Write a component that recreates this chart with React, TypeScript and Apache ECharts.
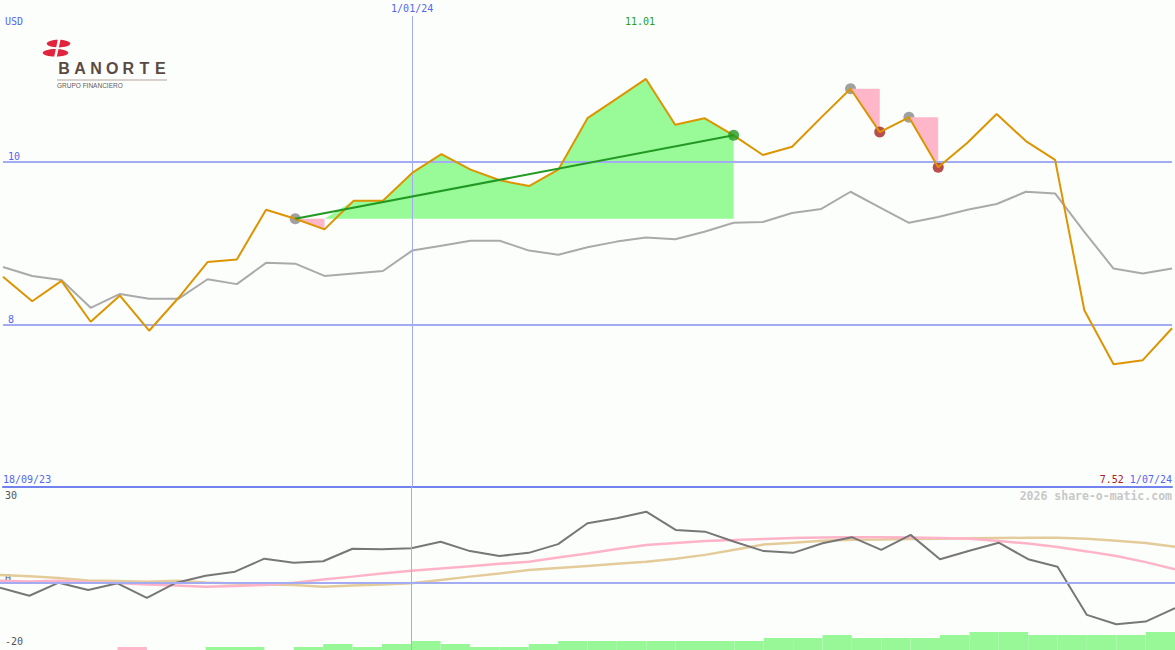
import React, { useEffect, useRef } from "react";
import * as echarts from "echarts";

// ---------- data ----------
const dates = [
  "18/09/23", "25/09/23", "2/10/23", "9/10/23", "16/10/23", "23/10/23", "30/10/23", "6/11/23",
  "13/11/23", "20/11/23", "27/11/23", "4/12/23", "11/12/23", "18/12/23", "1/01/24", "8/01/24",
  "15/01/24", "22/01/24", "29/01/24", "5/02/24", "12/02/24", "19/02/24", "26/02/24", "4/03/24",
  "11/03/24", "18/03/24", "25/03/24", "1/04/24", "8/04/24", "15/04/24", "22/04/24", "29/04/24",
  "6/05/24", "13/05/24", "20/05/24", "27/05/24", "3/06/24", "10/06/24", "17/06/24", "24/06/24",
  "1/07/24",
];

const priceValues = [
  8.59, 8.29, 8.54, 8.04, 8.36, 7.93, 8.33, 8.77, 8.80, 9.41, 9.30, 9.17, 9.52, 9.52, 9.86, 10.09,
  9.90, 9.77, 9.70, 9.90, 10.53, 10.77, 11.01, 10.45, 10.53, 10.32, 10.08, 10.18, 10.54, 10.89,
  10.36, 10.54, 9.93, 10.23, 10.58, 10.25, 10.02, 8.18, 7.52, 7.57, 7.96,
];

const averageValues = [
  8.71, 8.60, 8.55, 8.21, 8.38, 8.32, 8.32, 8.56, 8.50, 8.76, 8.75, 8.60, 8.63, 8.66, 8.91, 8.97,
  9.03, 9.03, 8.91, 8.86, 8.95, 9.02, 9.07, 9.05, 9.14, 9.25, 9.26, 9.37, 9.42, 9.63, 9.44, 9.25,
  9.32, 9.41, 9.48, 9.63, 9.61, 9.14, 8.69, 8.63, 8.69,
];

const momentumValues = [
  -1.6, -4.4, 0.1, -2.4, -0.1, -5.1, 0.1, 2.5, 3.9, 8.4, 7.0, 7.5, 11.8, 11.6, 12.0, 14.2, 11.0,
  9.3, 10.4, 13.4, 20.6, 22.3, 24.6, 18.3, 17.7, 14.2, 11.0, 10.4, 13.7, 15.8, 11.4, 16.6, 8.2,
  11.1, 13.9, 8.2, 5.6, -11.0, -14.2, -13.3, -8.7,
];

const pinkAverageValues = [
  0.8, 0.5, 0.8, 0.3, 0.0, -0.5, -0.9, -1.3, -1.0, -0.7, 0.1, 1.2, 2.2, 3.3, 4.2, 5.0, 5.8, 6.6,
  7.3, 8.8, 10.2, 11.7, 13.1, 13.8, 14.5, 14.8, 15.2, 15.5, 15.7, 15.8, 15.8, 15.7, 15.5, 15.3,
  14.5, 13.6, 12.4, 10.9, 9.3, 7.2, 4.7,
];

const tanAverageValues = [
  2.8, 2.3, 1.7, 0.9, 0.7, 0.4, 0.8, 0.2, -0.2, -0.5, -0.7, -1.3, -0.9, -0.5, -0.1, 1.0, 2.2, 3.3,
  4.5, 5.2, 5.9, 6.6, 7.3, 8.4, 9.7, 11.5, 13.3, 13.9, 14.6, 14.9, 15.0, 15.2, 15.3, 15.4, 15.5,
  15.6, 15.6, 15.3, 14.6, 13.8, 12.5,
];

// step bars (one per interval between two dates); negative = pink
const barLevels = [
  0, 0, 0, 0, -1, 0, 0, 1, 1, 0, 1, 2, 1, 2, 3, 2, 1, 1, 2, 3, 3, 3, 3, 3, 3, 3, 4, 4, 5, 4, 4, 4,
  5, 6, 6, 5, 5, 5, 5, 6,
];

const trendRange = [10, 25];
const greenRange = [11, 25];
const pinkSegments = [
  [10, 11],
  [29, 30],
  [31, 32],
];
const peakMarkers = [10, 29, 31];
const lowMarkers = [30, 32];
const trendEndMarker = 25;
const markDateIndex = 14;
const mainTickLabels = [8, 10];
const lowerTickLabels = [30, 0, -20];

// ---------- layout / style ----------
const MONO = '"DejaVu Sans Mono", monospace';
const BG = "#fcfefc";
const BLUE_T = "#5566ee";
const LINE_BLUE = "#a3abf2";
const SEP = "#7282ee";
const MAIN_MIN = 6.0183;
const MAIN_MAX = 11.9755;
const LOW_MIN = -23.103;
const LOW_MAX = 33.103;
const VLINE_TOP = 11.78;
const MAX_LABEL_Y = 11.7186;

export default function App() {
  const ref = useRef<HTMLDivElement>(null);

  useEffect(() => {
    const el = ref.current;
    if (!el) return;
    const chart = echarts.init(el, null, { renderer: "svg" });

    const n = dates.length;
    const maxVal = Math.max(...priceValues);
    const maxIdx = priceValues.indexOf(maxVal);
    const minVal = Math.min(...priceValues);
    const trendBase = priceValues[trendRange[0]];

    const greenBase = dates.map((_, i) =>
      i >= greenRange[0] && i <= greenRange[1] ? trendBase : null
    );
    const greenFill = dates.map((_, i) =>
      i >= greenRange[0] && i <= greenRange[1] ? Math.max(priceValues[i], trendBase) - trendBase : null
    );

    const pinkSeries: any[] = [];
    pinkSegments.forEach(([a, b], k) => {
      const level = priceValues[a];
      const baseData = dates.map((_, i) => (i >= a && i <= b ? Math.min(priceValues[i], level) : null));
      const fillData = dates.map((_, i) =>
        i >= a && i <= b ? level - Math.min(priceValues[i], level) : null
      );
      pinkSeries.push({
        type: "line",
        xAxisIndex: 0,
        yAxisIndex: 0,
        stack: "pink" + k,
        data: baseData,
        symbol: "none",
        lineStyle: { opacity: 0, width: 0 },
        z: 3,
        silent: true,
      });
      pinkSeries.push({
        type: "line",
        xAxisIndex: 0,
        yAxisIndex: 0,
        stack: "pink" + k,
        data: fillData,
        symbol: "none",
        lineStyle: { opacity: 0, width: 0 },
        areaStyle: { color: "#ffb6c8", opacity: 1 },
        z: 3,
        silent: true,
      });
    });

    const trendData = dates.map((_, i) =>
      i === trendRange[0] || i === trendRange[1] ? priceValues[i] : null
    );

    const near = (v: number, t: number) => Math.abs(v - t) < 1e-6;

    const option: any = {
      animation: false,
      backgroundColor: BG,
      grid: [
        { left: 0, right: 0, top: 0, height: 487 },
        { left: 0, right: 0, top: 487, height: 163 },
      ],
      xAxis: [
        {
          type: "category",
          gridIndex: 0,
          data: dates,
          boundaryGap: false,
          position: "bottom",
          axisLine: { show: true, lineStyle: { color: SEP, width: 2 } },
          axisTick: { show: false },
          splitLine: { show: false },
          axisLabel: {
            inside: true,
            margin: 3,
            interval: (i: number) => i === 0 || i === n - 1,
            alignMinLabel: "left",
            alignMaxLabel: "right",
            color: BLUE_T,
            fontFamily: MONO,
            fontSize: 10,
            formatter: (val: string, i: number) =>
              i === n - 1 ? `{r|${minVal.toFixed(2)}} ${val}` : val,
            rich: { r: { color: "#a82020", fontFamily: MONO, fontSize: 10 } },
          },
        },
        {
          type: "category",
          gridIndex: 0,
          data: dates,
          boundaryGap: false,
          position: "top",
          axisLine: { show: false },
          axisTick: { show: false },
          splitLine: { show: false },
          axisLabel: {
            inside: true,
            margin: 3,
            interval: (i: number) => i === markDateIndex,
            color: BLUE_T,
            fontFamily: MONO,
            fontSize: 10,
          },
        },
        { type: "category", gridIndex: 1, data: dates, boundaryGap: false, show: false },
        { type: "category", gridIndex: 1, data: dates.slice(0, n - 1), boundaryGap: true, show: false },
      ],
      yAxis: [
        {
          type: "value",
          gridIndex: 0,
          min: MAIN_MIN,
          max: MAIN_MAX,
          axisLine: { show: false },
          axisTick: { show: false },
          splitLine: { show: false },
          axisLabel: {
            inside: true,
            margin: 5,
            verticalAlign: "bottom",
            color: BLUE_T,
            fontFamily: MONO,
            fontSize: 10,
            formatter: (v: number) => (mainTickLabels.some((t) => near(v, t)) ? String(Math.round(v)) : ""),
          },
        },
        {
          type: "value",
          gridIndex: 1,
          min: LOW_MIN,
          max: LOW_MAX,
          axisLine: { show: false },
          axisTick: { show: false },
          splitLine: { show: false },
          axisLabel: {
            inside: true,
            margin: 5,
            color: "#555555",
            fontFamily: MONO,
            fontSize: 10,
            formatter: (v: number) => {
              const t = lowerTickLabels.find((x) => near(v, x));
              if (t === undefined) return "";
              return t === 0 ? "{z|0}" : String(t);
            },
            rich: {
              z: { color: "#555555", fontFamily: MONO, fontSize: 10, padding: [0, 0, 10, 0] },
            },
          },
        },
        { type: "value", gridIndex: 1, min: 0, max: 163 / 3, show: false },
      ],
      series: [
        {
          type: "line",
          name: "average",
          xAxisIndex: 0,
          yAxisIndex: 0,
          data: averageValues,
          symbol: "none",
          lineStyle: { color: "#aaaaaa", width: 2 },
          z: 1,
          markLine: {
            silent: true,
            symbol: ["none", "none"],
            label: { show: false },
            lineStyle: { color: LINE_BLUE, width: 2, type: "solid" },
            data: [
              ...mainTickLabels.map((v) => ({ yAxis: v })),
              [
                { coord: [dates[markDateIndex], VLINE_TOP], lineStyle: { color: LINE_BLUE, width: 1, type: "solid" } },
                { coord: [dates[markDateIndex], MAIN_MIN] },
              ],
            ],
          },
        },
        {
          type: "scatter",
          xAxisIndex: 0,
          yAxisIndex: 0,
          data: peakMarkers.map((i) => [dates[i], priceValues[i]]),
          symbolSize: 11,
          itemStyle: { color: "#888888" },
          z: 2,
          silent: true,
        },
        {
          type: "line",
          xAxisIndex: 0,
          yAxisIndex: 0,
          stack: "green",
          data: greenBase,
          symbol: "none",
          lineStyle: { opacity: 0, width: 0 },
          z: 3,
          silent: true,
        },
        {
          type: "line",
          xAxisIndex: 0,
          yAxisIndex: 0,
          stack: "green",
          data: greenFill,
          symbol: "none",
          lineStyle: { opacity: 0, width: 0 },
          areaStyle: { color: "#98fb98", opacity: 1 },
          z: 3,
          silent: true,
        },
        ...pinkSeries,
        {
          type: "scatter",
          xAxisIndex: 0,
          yAxisIndex: 0,
          data: lowMarkers.map((i) => [dates[i], priceValues[i]]),
          symbolSize: 11,
          itemStyle: { color: "#a82222" },
          z: 4,
          silent: true,
        },
        {
          type: "line",
          name: "price",
          xAxisIndex: 0,
          yAxisIndex: 0,
          data: priceValues,
          symbol: "none",
          lineStyle: { color: "#dc9500", width: 2 },
          z: 5,
          markPoint: {
            silent: true,
            symbol: "circle",
            symbolSize: 0,
            data: [{ coord: [dates[maxIdx], MAX_LABEL_Y], value: maxVal.toFixed(2) }],
            label: {
              show: true,
              position: "inside",
              formatter: "{c}",
              color: "#22a022",
              fontFamily: MONO,
              fontSize: 10,
              offset: [-6, 0],
            },
          },
        },
        {
          type: "line",
          xAxisIndex: 0,
          yAxisIndex: 0,
          data: trendData,
          connectNulls: true,
          symbol: "none",
          lineStyle: { color: "#229922", width: 2 },
          z: 6,
          silent: true,
        },
        {
          type: "scatter",
          xAxisIndex: 0,
          yAxisIndex: 0,
          data: [[dates[trendEndMarker], priceValues[trendEndMarker]]],
          symbolSize: 11,
          itemStyle: { color: "#229922" },
          z: 7,
          silent: true,
        },
        // lower panel
        {
          type: "bar",
          xAxisIndex: 3,
          yAxisIndex: 2,
          data: barLevels.map((v) =>
            v === 0 ? null : { value: Math.abs(v), itemStyle: { color: v < 0 ? "#ffb6c8" : "#98f898" } }
          ),
          barWidth: "100%",
          barCategoryGap: "0%",
          z: 2,
          silent: true,
        },
        {
          type: "line",
          xAxisIndex: 2,
          yAxisIndex: 1,
          data: tanAverageValues,
          symbol: "none",
          lineStyle: { color: "#e4cb9a", width: 2.5 },
          z: 1,
          markLine: {
            silent: true,
            symbol: ["none", "none"],
            label: { show: false },
            data: [
              { yAxis: 0, lineStyle: { color: LINE_BLUE, width: 2, type: "solid" } },
              { xAxis: dates[markDateIndex], lineStyle: { color: LINE_BLUE, width: 1, type: "solid" } },
            ],
          },
        },
        {
          type: "line",
          xAxisIndex: 2,
          yAxisIndex: 1,
          data: pinkAverageValues,
          symbol: "none",
          lineStyle: { color: "#ffb3c8", width: 2.5 },
          z: 3,
        },
        {
          type: "line",
          xAxisIndex: 2,
          yAxisIndex: 1,
          data: momentumValues,
          symbol: "none",
          lineStyle: { color: "#777777", width: 2 },
          z: 4,
        },
      ],
      graphic: [
        {
          type: "text",
          x: 5,
          y: 21,
          style: { text: "USD", fill: BLUE_T, fontFamily: MONO, fontSize: 10, verticalAlign: "middle" },
        },
        {
          type: "text",
          x: 1172,
          y: 496,
          z: 50,
          style: {
            text: "2026 share-o-matic.com",
            fill: "#c8c8c8",
            fontFamily: MONO,
            fontSize: 11.5,
            fontWeight: "bold",
            align: "right",
            verticalAlign: "middle",
          },
        },
        // logo
        { type: "ellipse", shape: { cx: 58.5, cy: 43.6, rx: 11.8, ry: 3.9 }, style: { fill: "#e2233d" } },
        { type: "ellipse", shape: { cx: 55.5, cy: 52.8, rx: 12.8, ry: 3.9 }, style: { fill: "#e2233d" } },
        { type: "line", shape: { x1: 59.5, y1: 38, x2: 55, y2: 59 }, style: { stroke: BG, lineWidth: 2.6 } },
        ...["B", "A", "N", "O", "R", "T", "E"].map((ch, k) => ({
          type: "text",
          x: 64 + k * 16.07,
          y: 68.5,
          style: {
            text: ch,
            fill: "#5b4a43",
            fontFamily: '"Liberation Sans", Arial, sans-serif',
            fontSize: 16,
            fontWeight: "bold",
            align: "center",
            verticalAlign: "middle",
          },
        })),
        { type: "rect", shape: { x: 57, y: 79, width: 110, height: 2 }, style: { fill: "#d8d0cc" } },
        {
          type: "text",
          x: 57,
          y: 85.5,
          style: {
            text: "GRUPO FINANCIERO",
            fill: "#6a5a54",
            fontFamily: '"Liberation Sans", Arial, sans-serif',
            fontSize: 6.5,
            verticalAlign: "middle",
          },
        },
      ],
    };

    chart.setOption(option);
    return () => chart.dispose();
  }, []);

  return (
    <div
      ref={ref}
      style={{ position: "fixed", left: 0, top: 0, width: 1175, height: 650, background: BG }}
    />
  );
}
